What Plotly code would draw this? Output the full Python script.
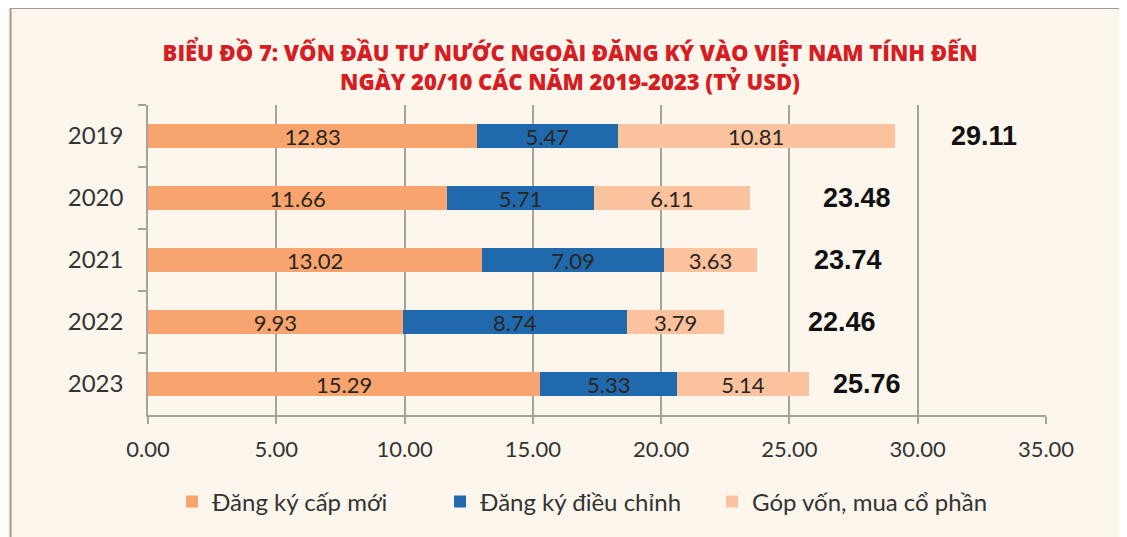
import plotly.graph_objects as go

years = ["2019", "2020", "2021", "2022", "2023"]
dang_ky_moi = [12.83, 11.66, 13.02, 9.93, 15.29]
dieu_chinh = [5.47, 5.71, 7.09, 8.74, 5.33]
gop_von = [10.81, 6.11, 3.63, 3.79, 5.14]
totals = [29.11, 23.48, 23.74, 22.46, 25.76]
x_ticks = [0, 5, 10, 15, 20, 25, 30, 35]

series_names = ["Đăng ký cấp mới", "Đăng ký điều chỉnh", "Góp vốn, mua cổ phần"]
colors = ["#F8A46E", "#1F69AC", "#FBC29E"]

# how far right of each bar the total sits (data units)
total_offsets = [3.47, 4.15, 3.54, 4.59, 2.26]
# one legend box per series so each entry sits where the original has it
legend_ids = ["legend", "legend2", "legend3"]
legend_x = [0.0267, 0.3252, 0.6281]

BG = "#FDF6EC"
GRID = "#A8A29C"
label_font = "Lato, 'Open Sans', sans-serif"

fig = go.Figure()
for name, vals, col, lg in zip(series_names, [dang_ky_moi, dieu_chinh, gop_von], colors, legend_ids):
    fig.add_trace(go.Bar(
        y=years, x=vals, name=name, orientation="h", legend=lg,
        marker=dict(color=col, line=dict(width=0)),
        text=[f"{v:.2f}" for v in vals], textposition="inside",
        insidetextanchor="middle", textangle=0, constraintext="none",
        textfont=dict(family=label_font, size=22, color="#2a2522"),
    ))

# totals; y given as category index (year strings would be read as numbers)
for i, (t, off) in enumerate(zip(totals, total_offsets)):
    fig.add_annotation(x=t + off, y=i, text=f"<b>{t:.2f}</b>", showarrow=False,
                       font=dict(family="Liberation Sans, Arial", size=27, color="#111"))

# outer frame
fig.add_shape(type="rect", xref="paper", yref="paper", x0=-0.153, x1=1.088,
              y0=-0.5, y1=1.313, line=dict(color="#A39B93", width=2), layer="below")

legend_style = dict(orientation="h", xref="paper", y=-0.28, yanchor="middle",
                    font=dict(family=label_font, size=24, color="#333"),
                    itemsizing="constant", bgcolor="rgba(0,0,0,0)")

fig.update_layout(
    barmode="stack",
    bargap=0.61,
    width=1127, height=537,
    paper_bgcolor=BG, plot_bgcolor=BG,
    margin=dict(l=140, r=89, t=97, b=130, autoexpand=False),
    title=dict(
        text="BIỂU ĐỒ 7: VỐN ĐẦU TƯ NƯỚC NGOÀI ĐĂNG KÝ VÀO VIỆT NAM TÍNH ĐẾN<br>NGÀY 20/10 CÁC NĂM 2019-2023 (TỶ USD)",
        x=0.4987, xanchor="center", y=1 - 53 / 537, yanchor="middle",
        font=dict(family="Open Sans, sans-serif", size=22, color="#D71D24", weight=800),
    ),
    showlegend=True,
    legend=dict(x=legend_x[0], **legend_style),
    legend2=dict(x=legend_x[1], **legend_style),
    legend3=dict(x=legend_x[2], **legend_style),
    xaxis=dict(range=[0, 35], tickvals=x_ticks, ticktext=[f"{v:.2f}" for v in x_ticks],
               showgrid=True, gridcolor=GRID, gridwidth=1.5, zeroline=False,
               showline=True, linecolor=GRID, linewidth=1.5,
               ticks="outside", ticklen=7, tickcolor=GRID, tickwidth=1.5,
               tickfont=dict(family=label_font, size=22, color="#333"), ticklabelstandoff=7),
    yaxis=dict(type="category", categoryorder="array", categoryarray=years, range=[4.5, -0.5],
               showline=True, linecolor=GRID, linewidth=1.5, showgrid=False,
               ticks="outside", tickson="boundaries", ticklen=8, tickcolor=GRID, tickwidth=1.5,
               tickfont=dict(family=label_font, size=24, color="#333"), ticklabelstandoff=18),
)

fig.write_html("out.html")
